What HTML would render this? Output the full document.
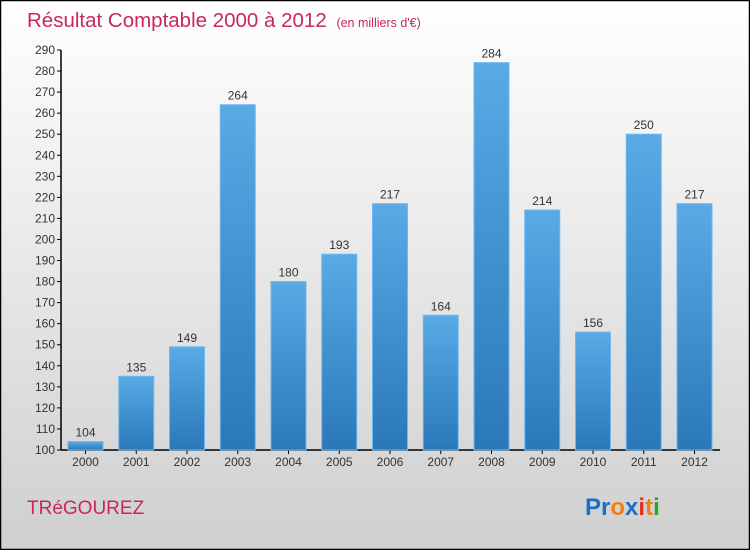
<!DOCTYPE html>
<html><head><meta charset="utf-8"><style>
body{margin:0;width:750px;height:550px;overflow:hidden}
svg{display:block}
text{font-family:"Liberation Sans",sans-serif}
</style></head><body>
<svg width="750" height="550">
<defs>
<linearGradient id="bg" x1="0" y1="0" x2="0" y2="1"><stop offset="0" stop-color="#ffffff"/><stop offset="1" stop-color="#cfcfcf"/></linearGradient>
<linearGradient id="bar" x1="0" y1="0" x2="0" y2="1"><stop offset="0" stop-color="#5aaae6"/><stop offset="1" stop-color="#2a78b8"/></linearGradient>
</defs>
<rect x="0.5" y="0.5" width="749" height="549" fill="url(#bg)" stroke="#000" stroke-width="1.5"/>
<text x="27" y="27" font-size="20.5" fill="#c8285a">Résultat Comptable 2000 à 2012 <tspan font-size="12.5" dx="4">(en milliers d'€)</tspan></text>
<g id="axes"></g>
<g id="bars"></g>
<text x="27" y="514" font-size="19" fill="#c8285a">TRéGOUREZ</text>
<text x="585" y="515" font-size="24" font-weight="bold"><tspan fill="#1a6fc8">Pr</tspan><tspan fill="#f08010">o</tspan><tspan fill="#1a6fc8">x</tspan><tspan fill="#e03020">i</tspan><tspan fill="#f08010">t</tspan><tspan fill="#30a030">i</tspan></text>
</svg>
<script>
const years=["2000","2001","2002","2003","2004","2005","2006","2007","2008","2009","2010","2011","2012"];
const values=[104,135,149,264,180,193,217,164,284,214,156,250,217];
const ticks=[100,110,120,130,140,150,160,170,180,190,200,210,220,230,240,250,260,270,280,290];
const NS="http://www.w3.org/2000/svg";
const y0=450,y1=50,vmin=100,vmax=290;
const yS=v=>y0-(v-vmin)/(vmax-vmin)*(y0-y1);
const xS=i=>85.5+i*50.75;
function mk(t,a,p){const e=document.createElementNS(NS,t);for(const k in a)e.setAttribute(k,a[k]);p.appendChild(e);return e;}
const ax=document.getElementById('axes'),bs=document.getElementById('bars');
let l=mk('line',{x1:61,y1:y1,x2:61,y2:y0,stroke:'#000','stroke-width':1.5},ax);


l=mk('line',{x1:61,y1:y0,x2:720,y2:y0,stroke:'#000','stroke-width':1.5},ax);


ticks.forEach(t=>{
 const y=yS(t);
 mk('line',{x1:57,y1:y,x2:61,y2:y,stroke:'#000'},ax);
 const tx=mk('text',{x:55,y:y+4,'font-size':12,'text-anchor':'end',fill:'#333'},ax);
 tx.textContent=t;
 
 
});
years.forEach((yr,i)=>{
 const cx=xS(i),v=values[i],y=yS(v);
 const r=mk('rect',{x:cx-17.5,y:y,width:35,height:y0-y,fill:'url(#bar)',stroke:'#6cb8f0','stroke-width':1},bs);
 
 
 const vl=mk('text',{x:cx,y:y-5,'font-size':12,'text-anchor':'middle',fill:'#333'},bs);
 vl.textContent=v;
 
 
 mk('line',{x1:cx,y1:y0,x2:cx,y2:y0+4,stroke:'#000'},ax);
 const xl=mk('text',{x:cx,y:466,'font-size':12,'text-anchor':'middle',fill:'#333'},ax);
 xl.textContent=yr;
 
 
});
</script>
</body></html>
